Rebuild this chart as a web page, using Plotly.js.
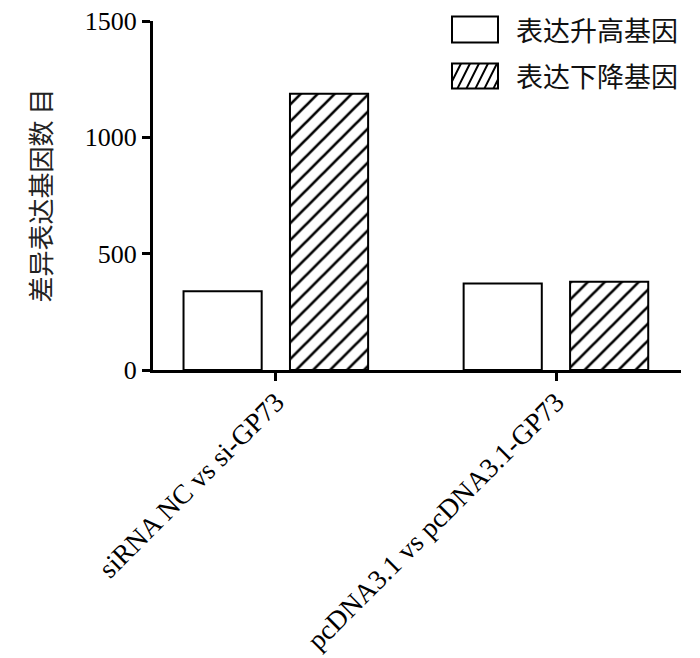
<!DOCTYPE html>
<html>
<head>
<meta charset="utf-8">
<script src="https://cdn.plot.ly/plotly-3.0.1.min.js"></script>
<style>html,body{margin:0;padding:0;background:#fff;}#chart{width:700px;height:658px;}</style>
</head>
<body>
<div id="chart"></div>
<script>
const categories = ['siRNA NC vs si-GP73', 'pcDNA3.1 vs pcDNA3.1-GP73'];
const upValues = [339, 372];
const downValues = [1187, 379];
const seriesNames = ['表达升高基因', '表达下降基因'];
const yTickVals = [0, 500, 1000, 1500];
const yTitle = '差异表达基因数 目';

const serif = 'Liberation Serif, Times New Roman, serif';
const cjk = 'Noto Sans CJK SC, sans-serif';

const traces = [
  {
    type: 'bar', name: seriesNames[0], x: categories, y: upValues,
    width: 0.279, offset: -0.33,
    marker: {color: 'white', line: {color: 'black', width: 2}},
    hoverinfo: 'skip'
  },
  {
    type: 'bar', name: seriesNames[1], x: categories, y: downValues,
    width: 0.279, offset: 0.05,
    marker: {color: 'white', line: {color: 'black', width: 2},
      pattern: {shape: '/', bgcolor: 'white', fgcolor: 'black', size: 12, solidity: 0.22}},
    hoverinfo: 'skip'
  }
];

// legend drawn in paper coordinates
const L = 153, R = 681, T = 20.5, B = 370;
const px2x = p => (p - L) / (R - L);
const px2y = p => (B - p) / (B - T);
const shapes = [];
const annotations = [];
const boxes = [[16, 42], [63, 88]];
const bx0 = 452, bx1 = 498;
boxes.forEach((b, i) => {
  shapes.push({type: 'rect', xref: 'paper', yref: 'paper',
    x0: px2x(bx0), x1: px2x(bx1), y0: px2y(b[1]), y1: px2y(b[0]),
    line: {color: 'black', width: 2}, fillcolor: 'white'});
  annotations.push({xref: 'paper', yref: 'paper', x: px2x(514), y: px2y((b[0] + b[1]) / 2),
    xanchor: 'left', yanchor: 'middle', showarrow: false, text: seriesNames[i],
    font: {family: cjk, size: 27, color: '#111'}});
});
// hatch in second legend box
(function () {
  const y0 = boxes[1][0], y1 = boxes[1][1];
  const h = y1 - y0, step = 9, dx = h * 0.5;
  let path = '';
  for (let s = bx0 - dx; s < bx1; s += step) {
    let xa = s, ya = y1, xb = s + dx, yb = y0;
    if (xa < bx0) { ya = y1 - (bx0 - xa) / dx * h; xa = bx0; }
    if (xb > bx1) { yb = y0 + (xb - bx1) / dx * h; xb = bx1; }
    if (xb <= xa) continue;
    path += `M${px2x(xa)},${px2y(ya)}L${px2x(xb)},${px2y(yb)}`;
  }
  shapes.push({type: 'path', xref: 'paper', yref: 'paper', path: path,
    line: {color: 'black', width: 2}});
})();

const layout = {
  width: 700, height: 658,
  margin: {l: 153, r: 19, t: 20.5, b: 288, pad: 0},
  paper_bgcolor: 'white', plot_bgcolor: 'white',
  barmode: 'overlay',
  showlegend: false,
  xaxis: {
    type: 'category', range: [-0.439, 1.446],
    showline: true, linewidth: 3, linecolor: 'black',
    ticks: 'outside', ticklen: 8, tickwidth: 3, tickcolor: 'black',
    tickangle: -45, showgrid: false, zeroline: false,
    ticklabelstandoff: -6,
    tickfont: {family: serif, size: 27.5, color: 'black'}
  },
  yaxis: {
    range: [0, 1500], tickvals: yTickVals,
    showline: true, linewidth: 3, linecolor: 'black',
    ticks: 'outside', ticklen: 8, tickwidth: 3, tickcolor: 'black',
    showgrid: false, zeroline: false,
    tickfont: {family: serif, size: 26, color: 'black'},
    title: {text: yTitle, font: {family: cjk, size: 26, color: '#222'}, standoff: 26}
  },
  shapes: shapes,
  annotations: annotations
};

Plotly.newPlot('chart', traces, layout, {staticPlot: true, displayModeBar: false});
</script>
</body>
</html>
